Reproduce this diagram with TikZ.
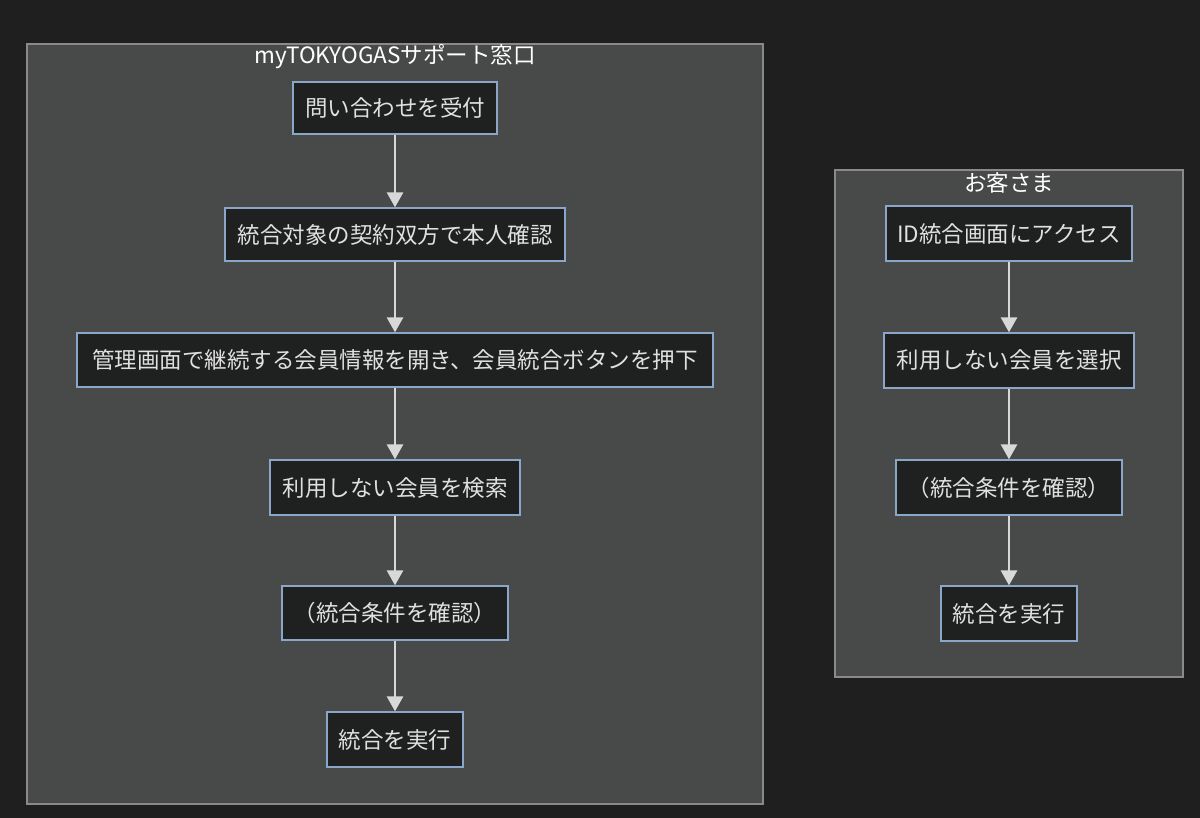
\documentclass[tikz,border=0pt]{standalone}
\usepackage{fontspec}
\setmainfont{Noto Sans CJK JP}
\usetikzlibrary{arrows.meta}
\definecolor{bg}{HTML}{1F1F1F}
\definecolor{cl}{HTML}{484949}
\definecolor{clb}{HTML}{8A8A8A}
\definecolor{nf}{HTML}{1F2020}
\definecolor{nb}{HTML}{8AA6C8}
\definecolor{tx}{HTML}{E0E0E0}
\definecolor{ar}{HTML}{D8D8D8}
\begin{document}
\begin{tikzpicture}[x=1pt,y=-1pt,
  box/.style={draw=nb,fill=nf,line width=1.3pt,text=tx,font=\fontsize{22.5}{24}\selectfont,inner sep=0pt,anchor=center},
  clus/.style={draw=clb,fill=cl,line width=1.3pt},
  ttl/.style={text=white,font=\fontsize{22.5}{24}\selectfont},
  arr/.style={draw=ar,line width=2.8pt,-{Triangle[length=15pt,width=16pt]}}]
\fill[bg] (0,0) rectangle (1200,818);
\useasboundingbox (0,0) rectangle (1200,818);
\draw[clus] (27,44) rectangle (763,804);
\node[ttl] (t1) at (395,57) {myTOKYOGASサポート窓口};
\draw[clus] (835,170) rectangle (1183,677);
\node[ttl] (t2) at (1009,183) {お客さま};
\node[box,minimum width=204,minimum height=52] (a1) at (395,108) {問い合わせを受付};
\node[box,minimum width=340,minimum height=53] (a2) at (395,234.5) {統合対象の契約双方で本人確認};
\node[box,minimum width=636,minimum height=54] (a3) at (395,360) {管理画面で継続する会員情報を開き、会員統合ボタンを押下};
\node[box,minimum width=250,minimum height=55] (a4) at (395,487.5) {利用しない会員を検索};
\node[box,minimum width=226,minimum height=54] (a5) at (395,613) {（統合条件を確認）};
\node[box,minimum width=136,minimum height=55] (a6) at (395,739.5) {統合を実行};
\node[box,minimum width=246,minimum height=55] (b1) at (1009,233.5) {ID統合画面にアクセス};
\node[box,minimum width=250,minimum height=55] (b2) at (1009,360.5) {利用しない会員を選択};
\node[box,minimum width=226,minimum height=55] (b3) at (1009,487.5) {（統合条件を確認）};
\node[box,minimum width=136,minimum height=55] (b4) at (1009,613.5) {統合を実行};
\foreach \u/\v in {a1/a2,a2/a3,a3/a4,a4/a5,a5/a6,b1/b2,b2/b3,b3/b4}
  \draw[arr] (\u) -- (\v);
\end{tikzpicture}
\end{document}
